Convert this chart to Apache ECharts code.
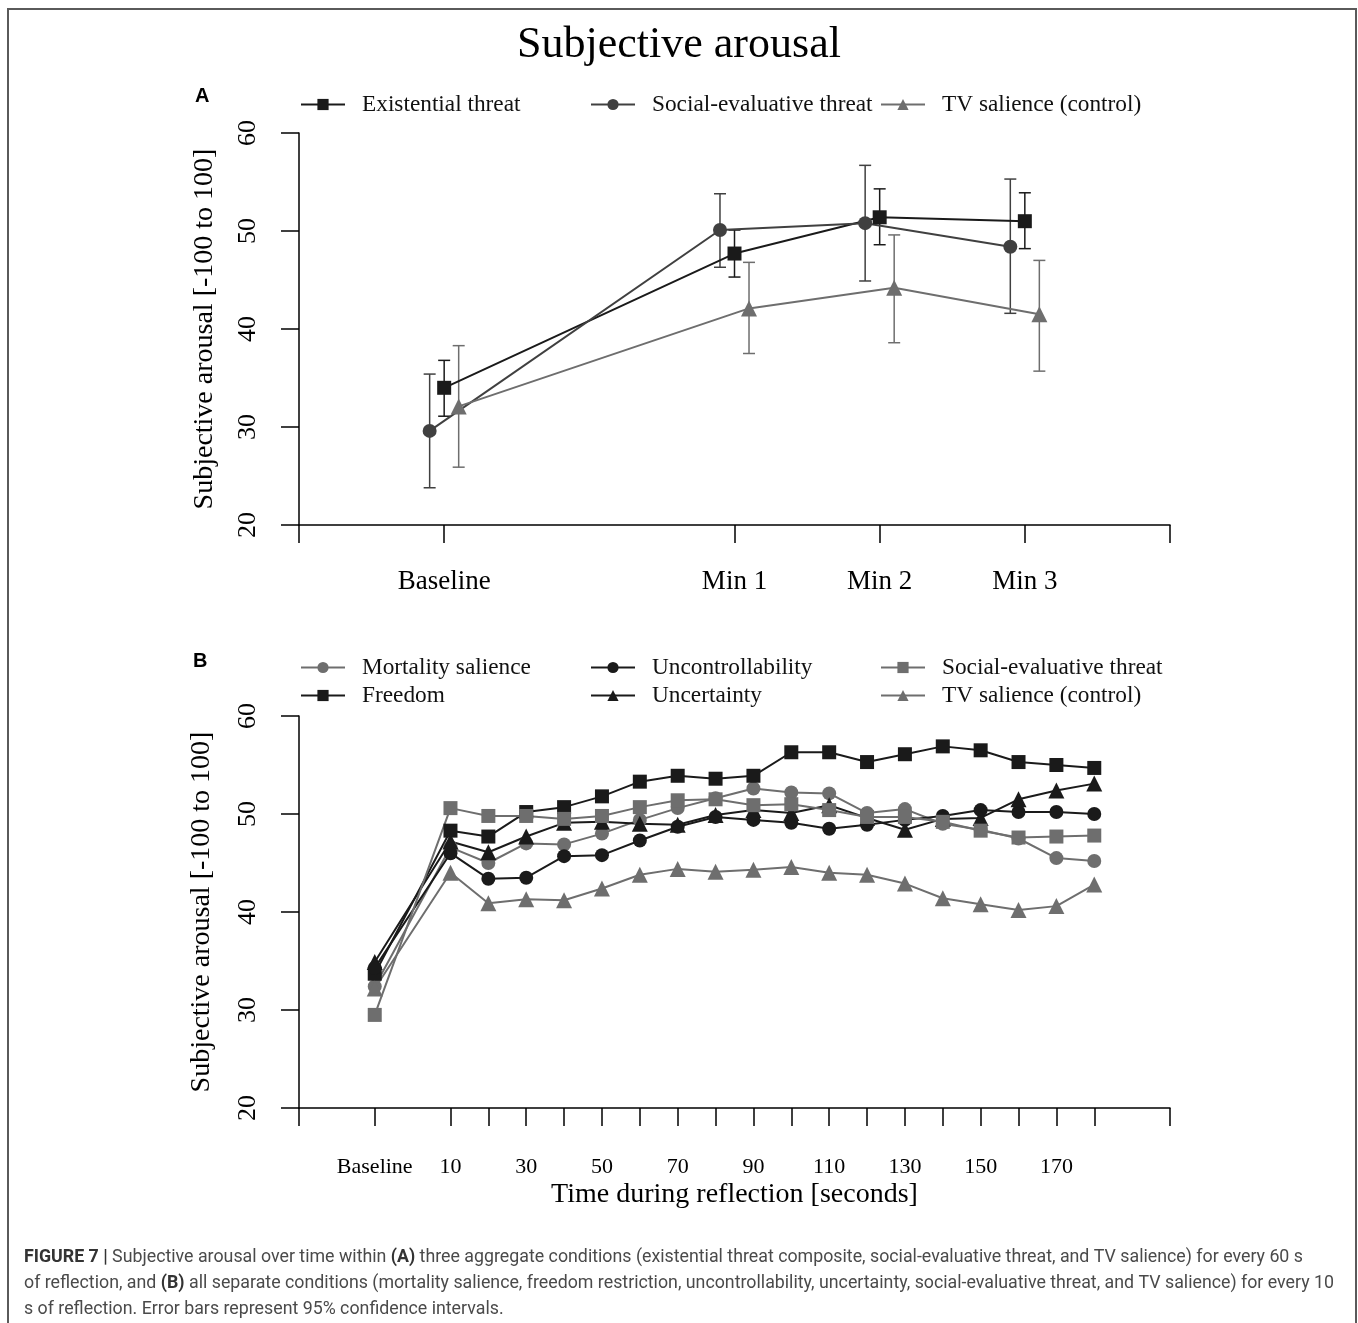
<!DOCTYPE html>
<html>
<head>
<meta charset="utf-8">
<title>Subjective arousal</title>
<script src="https://cdn.jsdelivr.net/npm/echarts@6/dist/echarts.min.js"></script>
<style>
  html, body { margin: 0; padding: 0; background: #fff; }
  #chart { width: 1358px; height: 1323px; }
</style>
</head>
<body>
<div id="chart"></div>
<script>
// panel A: every 60 s
var categoriesA = ["Baseline", "Min 1", "Min 2", "Min 3"];
var xA = [1, 3, 4, 5];
var existential = [34.0, 47.7, 51.4, 51.0];
var existentialLo = [31.1, 45.3, 48.6, 48.2];
var existentialHi = [36.8, 50.1, 54.3, 53.9];
var socialA = [29.6, 50.1, 50.8, 48.4];
var socialALo = [23.8, 46.3, 44.9, 41.6];
var socialAHi = [35.4, 53.8, 56.7, 55.3];
var tvA = [32.1, 42.1, 44.2, 41.5];
var tvALo = [25.9, 37.5, 38.6, 35.7];
var tvAHi = [38.3, 46.8, 49.6, 47.0];

// panel B: every 10 s (baseline drawn at -10)
var xB = [-10, 10, 20, 30, 40, 50, 60, 70, 80, 90, 100, 110, 120, 130, 140, 150, 160, 170, 180];
var tickLabelsB = [-10, 10, 30, 50, 70, 90, 110, 130, 150, 170];
var mortality = [32.4, 46.6, 45.0, 47.0, 46.9, 48.0, 49.4, 50.6, 51.6, 52.6, 52.2, 52.1, 50.1, 50.5, 49.0, 48.4, 47.5, 45.5, 45.2];
var freedom = [33.7, 48.3, 47.7, 50.2, 50.7, 51.8, 53.3, 53.9, 53.6, 53.9, 56.3, 56.3, 55.3, 56.1, 56.9, 56.5, 55.3, 55.0, 54.7];
var uncontrollability = [34.3, 46.0, 43.4, 43.5, 45.7, 45.8, 47.3, 48.7, 49.7, 49.4, 49.1, 48.5, 48.9, 49.4, 49.8, 50.4, 50.2, 50.2, 50.0];
var uncertainty = [34.9, 47.2, 46.1, 47.7, 49.1, 49.2, 49.0, 48.9, 49.9, 50.4, 50.1, 50.9, 49.6, 48.4, 49.5, 49.6, 51.5, 52.4, 53.1];
var socialB = [29.5, 50.6, 49.8, 49.8, 49.5, 49.8, 50.7, 51.4, 51.5, 50.9, 51.0, 50.4, 49.7, 49.7, 49.2, 48.3, 47.6, 47.7, 47.8];
var tvB = [32.2, 44.0, 40.9, 41.3, 41.2, 42.4, 43.8, 44.4, 44.1, 44.3, 44.6, 44.0, 43.8, 42.9, 41.4, 40.8, 40.2, 40.6, 42.8];

var serif = "Liberation Serif, Times New Roman, serif";
var black = "#1a1a1a";
var dark = "#404040";
var grey = "#6e6e6e";
var dodge = 0.1;

function pairs(xs, ys, off) {
  return ys.map(function (v, i) { return [xs[i] + (off || 0), v]; });
}
function bars(xs, lo, hi, off) {
  return lo.map(function (v, i) { return [xs[i] + (off || 0), v, hi[i]]; });
}

function errorSeries(name, data, color) {
  return {
    name: name,
    type: "custom",
    xAxisIndex: 0,
    yAxisIndex: 0,
    z: 1,
    data: data,
    renderItem: function (params, api) {
      var x = api.value(0);
      var lo = api.coord([x, api.value(1)]);
      var hi = api.coord([x, api.value(2)]);
      var w = 6;
      var st = { stroke: color, lineWidth: 1.5 };
      return {
        type: "group",
        children: [
          { type: "line", shape: { x1: lo[0], y1: lo[1], x2: hi[0], y2: hi[1] }, style: st },
          { type: "line", shape: { x1: lo[0] - w, y1: lo[1], x2: lo[0] + w, y2: lo[1] }, style: st },
          { type: "line", shape: { x1: hi[0] - w, y1: hi[1], x2: hi[0] + w, y2: hi[1] }, style: st }
        ]
      };
    }
  };
}

function lineSeries(name, data, color, symbol, size, axis) {
  return {
    name: name,
    type: "line",
    xAxisIndex: axis,
    yAxisIndex: axis,
    data: data,
    symbol: symbol,
    symbolSize: size,
    z: 3,
    lineStyle: { color: color, width: 2 },
    itemStyle: { color: color },
    emphasis: { disabled: true },
    animation: false
  };
}

var axisLineStyle = { onZero: false, lineStyle: { color: "#000", width: 1.5 } };

function yAxisOpt(idx, gap) {
  return {
    type: "value",
    gridIndex: idx,
    min: 20,
    max: 60,
    interval: 10,
    name: "Subjective arousal [-100 to 100]",
    nameLocation: "middle",
    nameRotate: 90,
    nameGap: gap,
    nameTextStyle: { fontFamily: serif, fontSize: 28, color: "#000" },
    axisLine: { show: true, onZero: false, lineStyle: { color: "#000", width: 1.5 } },
    axisTick: { show: true, length: 18, lineStyle: { color: "#000", width: 1.5 } },
    axisLabel: { rotate: 90, margin: 38, fontFamily: serif, fontSize: 26, color: "#000" },
    splitLine: { show: false }
  };
}

var legendText = { fontFamily: serif, fontSize: 23.3, color: "#111", padding: [0, 0, 0, 12] };
function legendOpt(left, top, names, orient) {
  return {
    left: left,
    top: top,
    orient: orient || "horizontal",
    data: names,
    itemWidth: 44,
    itemHeight: 14,
    itemGap: 5,
    textStyle: legendText,
    selectedMode: false,
    formatter: function (name) { return name.replace(/ B$/, ""); }
  };
}

var chart = echarts.init(document.getElementById("chart"));
chart.setOption({
  animation: false,
  backgroundColor: "#fff",
  title: {
    text: "Subjective arousal",
    left: "center",
    top: 18,
    textStyle: { fontFamily: serif, fontSize: 44, fontWeight: "normal", color: "#000" }
  },
  legend: [
    legendOpt(295, 88, ["Existential threat"]),
    legendOpt(585, 88, ["Social-evaluative threat"]),
    legendOpt(875, 88, ["TV salience (control)"]),
    legendOpt(295, 651, ["Mortality salience", "Freedom"], "vertical"),
    legendOpt(585, 651, ["Uncontrollability", "Uncertainty"], "vertical"),
    legendOpt(875, 651, ["Social-evaluative threat B", "TV salience (control) B"], "vertical")
  ],
  grid: [
    { left: 299, top: 133, width: 871, height: 392 },
    { left: 299, top: 716, width: 871, height: 392 }
  ],
  xAxis: [
    {
      type: "value",
      gridIndex: 0,
      min: 0,
      max: 6,
      axisLine: axisLineStyle,
      axisTick: { show: true, length: 18, customValues: [0].concat(xA, [6]), lineStyle: { color: "#000", width: 1.5 } },
      axisLabel: {
        customValues: xA,
        margin: 43,
        fontFamily: serif,
        fontSize: 27,
        color: "#000",
        formatter: function (v) { return categoriesA[xA.indexOf(v)]; }
      },
      splitLine: { show: false }
    },
    {
      type: "value",
      gridIndex: 1,
      min: -30,
      max: 200,
      name: "Time during reflection [seconds]",
      nameLocation: "middle",
      nameGap: 73,
      nameTextStyle: { fontFamily: serif, fontSize: 28, color: "#000" },
      axisLine: axisLineStyle,
      axisTick: { show: true, length: 18, customValues: [-30].concat(xB, [200]), lineStyle: { color: "#000", width: 1.5 } },
      axisLabel: {
        customValues: tickLabelsB,
        margin: 48,
        fontFamily: serif,
        fontSize: 22,
        color: "#000",
        formatter: function (v) { return v === -10 ? "Baseline" : String(v); }
      },
      splitLine: { show: false }
    }
  ],
  yAxis: [yAxisOpt(0, 80), yAxisOpt(1, 83)],
  graphic: [
    { type: "rect", shape: { x: 8, y: 9, width: 1348, height: 1330 }, style: { fill: null, stroke: "#5a5a5a", lineWidth: 2 }, silent: true },
    { type: "text", left: 195, top: 86, style: { text: "A", font: "bold 20px Liberation Sans, Arial, sans-serif", fill: "#000" } },
    { type: "text", left: 193, top: 651, style: { text: "B", font: "bold 20px Liberation Sans, Arial, sans-serif", fill: "#000" } },
    {
      type: "text", left: 24, top: 1245,
      style: {
        text: "{b|FIGURE 7 |} Subjective arousal over time within {b|(A)} three aggregate conditions (existential threat composite, social-evaluative threat, and TV salience) for every 60 s\n" +
              "of reflection, and {b|(B)} all separate conditions (mortality salience, freedom restriction, uncontrollability, uncertainty, social-evaluative threat, and TV salience) for every 10\n" +
              "s of reflection. Error bars represent 95% confidence intervals.",
        font: "17.8px Roboto, Liberation Sans, sans-serif",
        fill: "#4a4a4a",
        lineHeight: 26,
        rich: {
          b: { fontWeight: "bold", fontFamily: "Roboto, Liberation Sans, sans-serif", fontSize: 17.8, fill: "#333", lineHeight: 26 }
        }
      }
    }
  ],
  series: [
    lineSeries("Existential threat", pairs(xA, existential), black, "rect", 14, 0),
    lineSeries("Social-evaluative threat", pairs(xA, socialA, -dodge), dark, "circle", 14, 0),
    lineSeries("TV salience (control)", pairs(xA, tvA, dodge), grey, "triangle", 16, 0),
    errorSeries("Existential threat", bars(xA, existentialLo, existentialHi), black),
    errorSeries("Social-evaluative threat", bars(xA, socialALo, socialAHi, -dodge), dark),
    errorSeries("TV salience (control)", bars(xA, tvALo, tvAHi, dodge), grey),
    lineSeries("Mortality salience", pairs(xB, mortality), grey, "circle", 14, 1),
    lineSeries("Freedom", pairs(xB, freedom), black, "rect", 14, 1),
    lineSeries("Uncontrollability", pairs(xB, uncontrollability), black, "circle", 14, 1),
    lineSeries("Uncertainty", pairs(xB, uncertainty), black, "triangle", 16, 1),
    lineSeries("Social-evaluative threat B", pairs(xB, socialB), grey, "rect", 14, 1),
    lineSeries("TV salience (control) B", pairs(xB, tvB), grey, "triangle", 16, 1)
  ]
});
</script>
</body>
</html>
